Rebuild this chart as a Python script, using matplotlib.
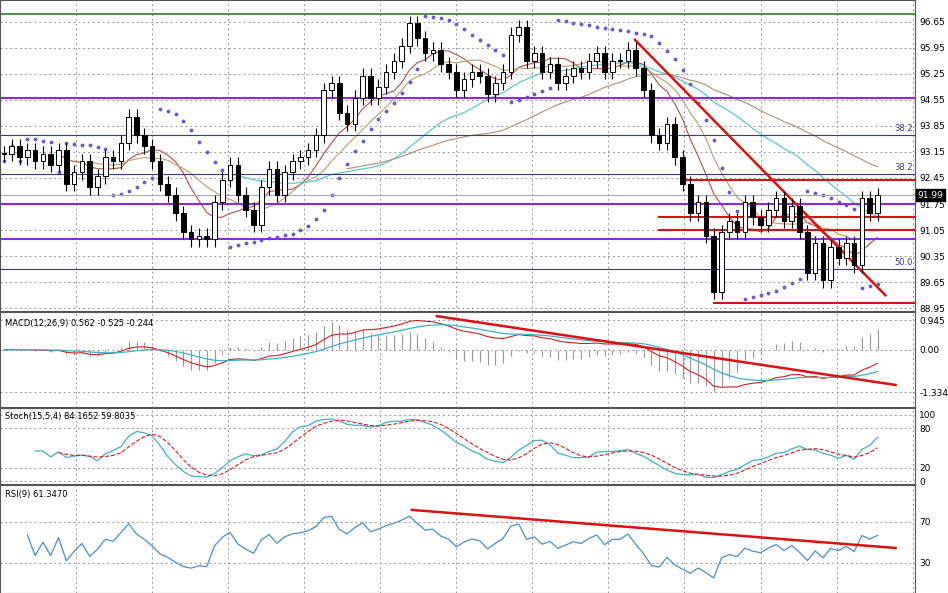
import numpy as np
import matplotlib
matplotlib.use("Agg")
import matplotlib.pyplot as plt

closes = [93.1,93.3,93.0,93.2,92.9,93.1,92.8,93.2,
          92.3,92.6,92.9,92.2,92.5, 93.0,92.9,93.4,94.1,93.6,
          93.3,92.9,92.3,92.0,91.5, 91.0,90.8,90.9,90.8,91.8,
          92.4,92.8,92.0,91.6,91.2, 92.2,92.7,92.0,92.6,92.9,
          93.0,93.2,93.6,94.8,95.0, 94.2,93.9,94.6,95.2,94.6,
          94.9,95.3,95.6,96.0,96.6, 96.2,95.8,95.9,95.5,95.3,
          94.8,95.1,95.3,95.2,94.7, 95.0,95.3,96.3,96.5,95.6,
          95.8,95.3,95.5,95.0,95.2, 95.4,95.3,95.6,95.8,95.3,
          95.6,95.6,95.9,95.4,94.8, 93.6,93.4,93.9,93.0,92.3,
          91.5,91.8,90.9,89.4,91.0, 91.3,91.0,91.8,91.4,91.2,
          91.6,91.9,91.3,91.7,91.0, 89.9,90.7,89.7,90.6,90.3,
          90.7,90.1,91.9,91.5,91.99]
price_ticks = [96.65,95.95,95.25,94.55,93.85,93.15,92.45,91.75,91.05,90.35,89.65,88.95]
purple_levels = [94.6, 91.75, 90.8]
fib_levels = [(93.6, "38.2"), (92.55, "38.2"), (90.0, "50.0")]
red_levels = [(92.4, 87), (91.4, 84), (91.05, 84), (89.1, 91)]
green_level = 96.85
last_price = 91.99

c = np.array(closes); n = len(c); x = np.arange(n)
o = np.r_[c[0], c[:-1]]
hi = np.maximum(o, c) + 0.2; lo = np.minimum(o, c) - 0.2

def sma(a, p):
    out = np.full(len(a), np.nan)
    for i in range(p-1, len(a)): out[i] = a[i-p+1:i+1].mean()
    return out
def ema(a, p):
    k = 2/(p+1); out = np.zeros(len(a)); out[0] = a[0]
    for i in range(1, len(a)): out[i] = a[i]*k + out[i-1]*(1-k)
    return out

fig = plt.figure(figsize=(9.48, 5.93), dpi=100)
W = 915/948
axs = [fig.add_axes([0, 1-312/593, W, 312/593]),
       fig.add_axes([0, 1-408/593, W, 96/593]),
       fig.add_axes([0, 1-485/593, W, 77/593]),
       fig.add_axes([0, 0, W, 108/593])]
for a in axs:
    a.set_xlim(-0.5, 116.8)
    a.yaxis.tick_right()
    a.tick_params(axis='y', labelsize=6.5, length=0, pad=3)
    a.set_xticks(np.arange(-0.5, 117, 9.75))
    a.tick_params(axis='x', length=0, labelbottom=False)
    a.grid(True, color='#999999', linestyle=(0, (2, 3)), linewidth=0.7)
    for s in a.spines.values(): s.set_color('#555555')
    a.spines['top'].set_linewidth(1.5)

ax = axs[0]
ax.set_ylim(88.85, 97.23); ax.set_yticks(price_ticks)
ax.set_yticklabels([f"{v:.2f}" for v in price_ticks])
for i in range(n):
    ax.vlines(x[i], lo[i], hi[i], color='black', lw=0.8, zorder=3)
    up = c[i] >= o[i]
    ax.bar(x[i], max(abs(c[i]-o[i]), 0.03), bottom=min(o[i], c[i]), width=0.6,
           color='white' if up else 'black', edgecolor='black', lw=0.7, zorder=4)
ax.plot(x, sma(c, 8), color='#b05050', lw=0.8, zorder=2)
ax.plot(x, sma(c, 12), color='#b8a070', lw=0.8, zorder=2)
ax.plot(x, sma(c, 30), color='#5ec8d0', lw=0.9, zorder=2)
ax.plot(x, sma(c, 45), color='#b09070', lw=0.8, zorder=2)
sar = np.zeros(n); trend = 1; ep = hi[0]; af = 0.02; sar[0] = lo[0]
for i in range(1, n):
    s = sar[i-1] + af*(ep - sar[i-1])
    if trend == 1:
        if lo[i] < s: trend, s, ep, af = -1, ep, lo[i], 0.02
        elif hi[i] > ep: ep, af = hi[i], min(af+0.02, 0.2)
    else:
        if hi[i] > s: trend, s, ep, af = 1, ep, hi[i], 0.02
        elif lo[i] < ep: ep, af = lo[i], min(af+0.02, 0.2)
    sar[i] = s
ax.scatter(x, sar, s=3, color='#6a5acd', zorder=2)
ax.axhline(green_level, color='#2e7d32', lw=1.2)
for v in purple_levels: ax.axhline(v, color='#8a2be2', lw=1.5)
for v, t in fib_levels:
    ax.axhline(v, color='#3a3a7a', lw=0.8)
    ax.text(116.5, v+0.05, t, ha='right', va='bottom', fontsize=6, color='#3a3a7a')
for v, s0 in red_levels: ax.plot([s0, 116.8], [v, v], color='#dd1111', lw=1.5)
ax.axhline(last_price, color='#aaaaaa', lw=0.8)
ax.plot([80.9, 113], [96.16, 89.3], color='#dd1111', lw=1.8)
ax.text(1.003, (last_price-88.85)/(97.23-88.85), f"{last_price:.2f}", transform=ax.transAxes,
        fontsize=6.5, color='white', va='center', ha='left',
        bbox=dict(facecolor='black', pad=1, edgecolor='black'))

# MACD
macd = ema(c, 12) - ema(c, 26); sig = ema(macd, 9)
a = axs[1]; a.set_ylim(-1.84, 1.2); a.set_yticks([0.945, 0, -1.334])
a.set_yticklabels(["0.945", "0.00", "-1.334"])
a.vlines(x, 0, (macd - sig)*2.5, color='#999999', lw=0.8)
a.plot(x, macd, color='#cc2222', lw=0.8); a.plot(x, sig, color='#40b0c8', lw=0.9)
a.plot([55.5, 114.3], [1.07, -1.11], color='#dd1111', lw=1.8)
a.text(0.005, 0.93, "MACD(12,26,9) 0.562 -0.525 -0.244", transform=a.transAxes, fontsize=6, va='top')

# Stochastic
k = np.full(n, 50.0)
for i in range(n):
    lo15 = lo[max(0, i-14):i+1].min(); hi15 = hi[max(0, i-14):i+1].max()
    k[i] = 100*(c[i]-lo15)/(hi15-lo15)
ks = sma(k, 5); ds = sma(ks, 4)
a = axs[2]; a.set_ylim(-6, 110.6); a.set_yticks([100, 80, 20, 0])
a.plot(x, ks, color='#40b0c8', lw=0.9); a.plot(x, ds, color='#cc2222', lw=0.8, ls='--')
a.text(0.005, 0.95, "Stoch(15,5,4) 84.1652 59.8035", transform=a.transAxes, fontsize=6, va='top')

# RSI
d = np.diff(c, prepend=c[0]); g = np.clip(d, 0, None); l = np.clip(-d, 0, None)
ag = ema(g, 17); al = ema(l, 17)
rsi = 100 - 100/(1 + ag/np.maximum(al, 1e-6))
rsi[:3] = np.nan
a = axs[3]; a.set_ylim(0.7, 106); a.set_yticks([70, 30])
a.plot(x, rsi, color='#4a90c8', lw=0.9)
a.plot([52.3, 114.3], [81.7, 44.6], color='#dd1111', lw=1.8)
a.text(0.005, 0.95, "RSI(9) 61.3470", transform=a.transAxes, fontsize=6, va='top')

fig.savefig("out.png", dpi=100, facecolor='white')
